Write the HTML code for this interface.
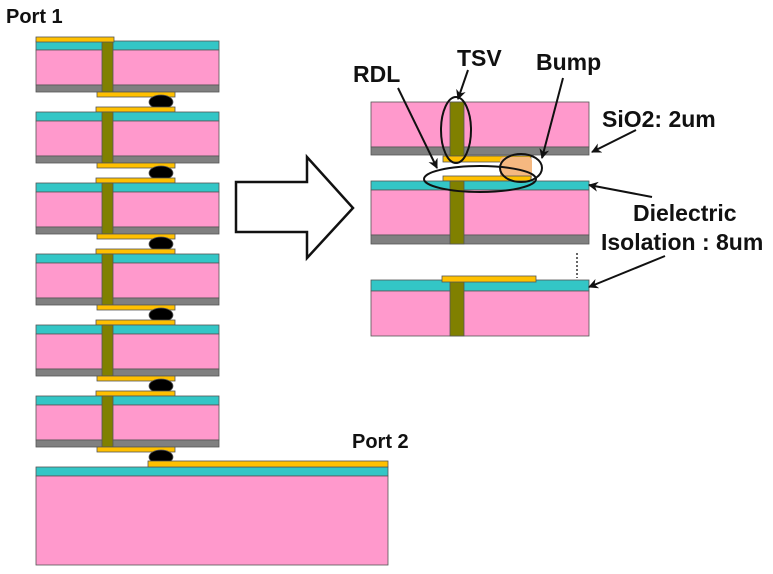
<!DOCTYPE html>
<html><head><meta charset="utf-8"><style>
html,body{margin:0;padding:0;background:#fff;}
svg{display:block;}
text{font-family:"Liberation Sans",Arial,sans-serif;font-weight:bold;fill:#111;}
</style></head><body>
<svg width="773" height="574" viewBox="0 0 773 574" xmlns="http://www.w3.org/2000/svg">
<defs>
<marker id="ah" markerWidth="10" markerHeight="10" refX="9" refY="5" orient="auto" markerUnits="userSpaceOnUse">
<path d="M0,0 L10,5 L0,10 L3,5 Z" fill="#111"/>
</marker>
<g id="die">
<rect x="96" y="36" width="79" height="5" fill="#ffc000"/>
<rect x="36" y="41" width="183" height="9" fill="#33c6c6"/>
<rect x="36" y="50" width="183" height="35" fill="#ff99cc"/>
<rect x="36" y="85" width="183" height="7" fill="#808080"/>
<rect x="102" y="41" width="11" height="51" fill="#808000"/>
<rect x="97" y="92" width="78" height="5" fill="#ffc000"/>
<ellipse cx="161" cy="102" rx="12" ry="7" fill="#000"/>
</g>
</defs>
<g stroke="#555" stroke-width="0.8">
<g>
<rect x="36" y="41" width="183" height="9" fill="#33c6c6"/>
<rect x="36" y="50" width="183" height="35" fill="#ff99cc"/>
<rect x="36" y="85" width="183" height="7" fill="#808080"/>
<rect x="102" y="41" width="11" height="51" fill="#808000"/>
<rect x="97" y="92" width="78" height="5" fill="#ffc000"/>
<ellipse cx="161" cy="102" rx="12" ry="7" fill="#000"/>
</g>
<rect x="36" y="37" width="78" height="5" fill="#ffc000"/>
<use href="#die" transform="translate(0,71)"/>
<use href="#die" transform="translate(0,142)"/>
<use href="#die" transform="translate(0,213)"/>
<use href="#die" transform="translate(0,284)"/>
<use href="#die" transform="translate(0,355)"/>
<rect x="36" y="467" width="352" height="9" fill="#33c6c6"/>
<rect x="36" y="476" width="352" height="89" fill="#ff99cc"/>
<rect x="148" y="461" width="240" height="6" fill="#ffc000"/>

<rect x="371" y="102" width="218" height="45" fill="#ff99cc"/>
<rect x="371" y="147" width="218" height="8" fill="#808080"/>
<rect x="450" y="102" width="14" height="56" fill="#808000"/>
<rect x="443" y="156" width="88" height="6" fill="#ffc000"/>
<rect x="500" y="157" width="32" height="24" rx="4" fill="#f5b880" stroke="none"/>
<rect x="443" y="176" width="88" height="5" fill="#ffc000"/>
<rect x="371" y="181" width="218" height="9" fill="#33c6c6"/>
<rect x="371" y="190" width="218" height="45" fill="#ff99cc"/>
<rect x="371" y="235" width="218" height="9" fill="#808080"/>
<rect x="450" y="181" width="14" height="63" fill="#808000"/>
<rect x="371" y="280" width="218" height="11" fill="#33c6c6"/>
<rect x="371" y="291" width="218" height="45" fill="#ff99cc"/>
<rect x="450" y="280" width="14" height="56" fill="#808000"/>
<rect x="442" y="276" width="94" height="6" fill="#ffc000"/>
</g>
<line x1="577" y1="253" x2="577" y2="278" stroke="#333" stroke-width="1.5" stroke-dasharray="2,2"/>

<g fill="none" stroke="#111" stroke-width="2">
<ellipse cx="456" cy="130" rx="15" ry="33"/>
<ellipse cx="521" cy="168" rx="21" ry="14"/>
<ellipse cx="480" cy="179" rx="56" ry="13"/>
<path d="M236,182 H307 V157 L353,208 L307,258 V232 H236 Z" stroke-width="2.5"/>
</g>

<g stroke="#111" stroke-width="2" marker-end="url(#ah)">
<line x1="468" y1="70" x2="458" y2="99"/>
<line x1="563" y1="78" x2="542" y2="158"/>
<line x1="398" y1="88" x2="437" y2="168"/>
<line x1="636" y1="130" x2="592" y2="152"/>
<line x1="652" y1="197" x2="589" y2="185"/>
<line x1="665" y1="256" x2="589" y2="287"/>
</g>

<text x="6" y="23" font-size="20">Port 1</text>
<text x="352" y="448" font-size="20">Port 2</text>
<text x="457" y="66" font-size="23">TSV</text>
<text x="536" y="70" font-size="23">Bump</text>
<text x="353" y="82" font-size="23">RDL</text>
<text x="602" y="127" font-size="23">SiO2: 2um</text>
<text x="633" y="221" font-size="23">Dielectric</text>
<text x="601" y="250" font-size="23">Isolation : 8um</text>
</svg>
</body></html>
